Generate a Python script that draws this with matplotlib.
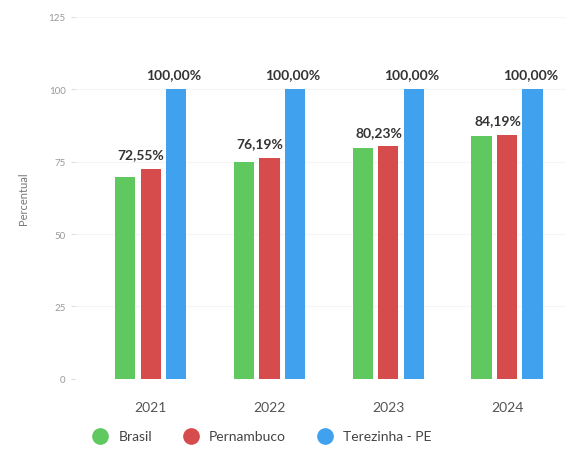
import matplotlib.pyplot as plt
from matplotlib.lines import Line2D
import numpy as np

# Data
anos = ['2021', '2022', '2023', '2024']
brasil = [69.7, 74.8, 79.6, 84.0]
pernambuco = [72.55, 76.19, 80.23, 84.19]
terezinha = [100.0, 100.0, 100.0, 100.0]
rotulos_pe = ['72,55%', '76,19%', '80,23%', '84,19%']
rotulos_tz = ['100,00%', '100,00%', '100,00%', '100,00%']
series = ['Brasil', 'Pernambuco', 'Terezinha - PE']

plt.rcParams['font.family'] = ['Lato', 'DejaVu Sans']

fig = plt.figure(figsize=(5.75, 4.56), dpi=100)
ax = fig.add_axes([0.13, 0.167, 0.855, 0.794])

x = np.arange(len(anos))
w = 0.17
off = 0.215
verde = '#5fc85f'
vermelho = '#d64b4b'
azul = '#40a2ee'

ax.bar(x - off, brasil, w, color=verde)
ax.bar(x, pernambuco, w, color=vermelho)
ax.bar(x + off, terezinha, w, color=azul)

# value labels
for i in range(len(anos)):
    ax.text(x[i] - 0.08, pernambuco[i] + 3, rotulos_pe[i], ha='center', va='bottom',
            fontsize=10, fontweight='bold', color='#333333')
    ax.text(x[i] + off - 0.02, terezinha[i] + 3, rotulos_tz[i], ha='center', va='bottom',
            fontsize=10, fontweight='bold', color='#333333')

ax.set_ylim(0, 125)
ax.set_xlim(-0.64, 3.5)
ax.set_yticks([0, 25, 50, 75, 100, 125])
ax.set_xticks(x)
ax.set_xticklabels(anos, fontsize=10, color='#555555')
ax.tick_params(axis='y', labelsize=7, colors='#999999', length=3, color='#dddddd')
ax.tick_params(axis='x', length=0, pad=16)
ax.set_ylabel('Percentual', fontsize=8, color='#777777', labelpad=14)
ax.grid(axis='y', color='#f5f5f5', linewidth=0.8)
ax.set_axisbelow(True)
for s in ax.spines.values():
    s.set_visible(False)

# legend with circle markers
handles = [Line2D([], [], marker='o', linestyle='', markersize=11, color=c)
           for c in [verde, vermelho, azul]]
fig.legend(handles, series, loc='lower center',
           bbox_to_anchor=(0.45, 0.0), ncol=3, frameon=False, fontsize=10,
           handletextpad=0.3, columnspacing=1.8, labelcolor='#444444')

fig.savefig('out.png', dpi=100)
